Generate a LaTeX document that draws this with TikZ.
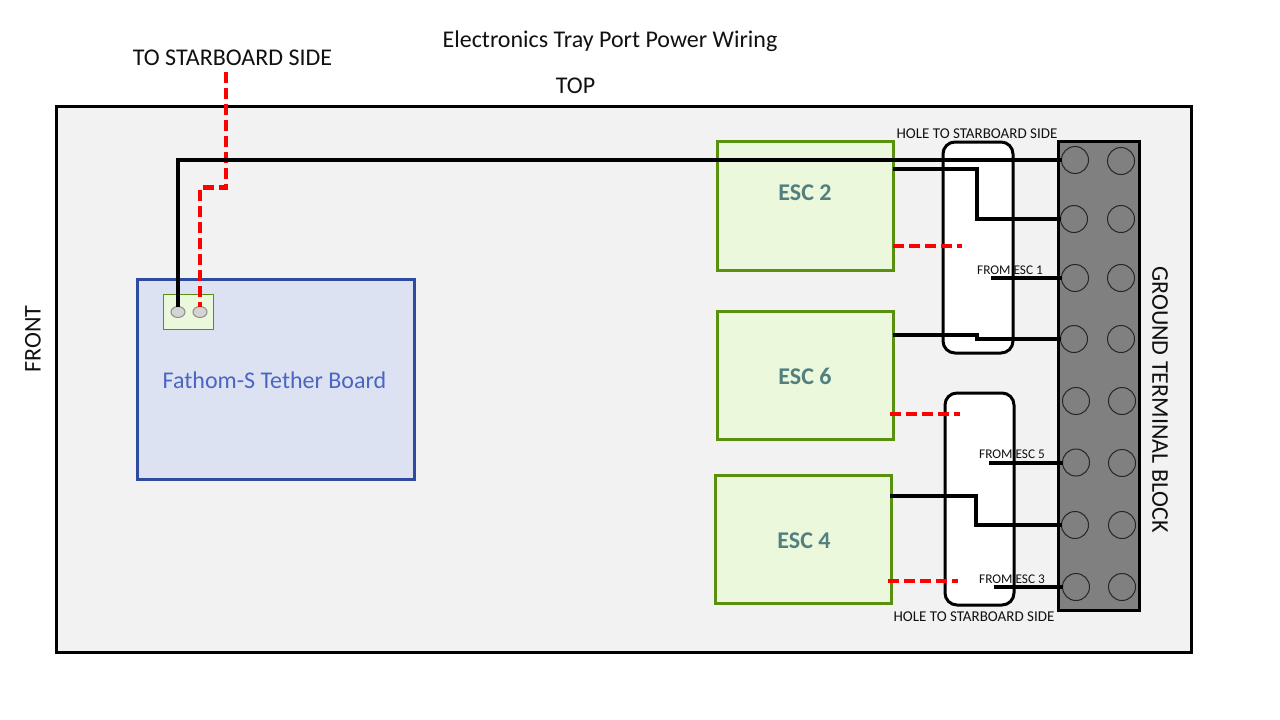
\documentclass[tikz,border=0pt]{standalone}
\usepackage{fontspec}
\setmainfont{Carlito}
\usetikzlibrary{shapes.geometric}
\definecolor{trayfill}{HTML}{F2F2F2}
\definecolor{escfill}{HTML}{EBF8DC}
\definecolor{escline}{HTML}{5A9010}
\definecolor{esctext}{HTML}{53807F}
\definecolor{boardfill}{HTML}{DDE2F3}
\definecolor{boardline}{HTML}{2F4B9F}
\definecolor{boardtext}{HTML}{4A66C0}
\definecolor{blockfill}{HTML}{808080}
\definecolor{pinfill}{HTML}{D4D4D4}
\definecolor{pinline}{HTML}{8C8C8C}
\definecolor{txt}{HTML}{111111}
\tikzset{
  every node/.style={outer sep=0pt,inner sep=0pt,text=txt},
  big/.style={font=\fontsize{24}{26}\selectfont},
  holetext/.style={font=\fontsize{15}{17}\selectfont},
  fromtext/.style={font=\fontsize{13.3}{15}\selectfont},
  frame/.style={draw=black,line width=3pt,fill=trayfill,rectangle},
  escbox/.style={draw=escline,line width=3pt,fill=escfill,rectangle,minimum width=176pt,minimum height=128.5pt},
  esclabel/.style={font=\fontsize{24}{26}\selectfont\bfseries,text=esctext},
  hole/.style={draw=black,line width=3pt,fill=white,rectangle,rounded corners=12pt},
  term/.style={draw=black!85,line width=1pt,circle,minimum size=27pt},
  pin/.style={draw=pinline,line width=1pt,fill=pinfill,ellipse,minimum width=14pt,minimum height=11pt},
  wire/.style={draw=black,line width=4pt},
  redwire/.style={draw=red,line width=4.5pt,dash pattern=on 11pt off 5pt},
}
\begin{document}
\begin{tikzpicture}[x=1pt,y=-1pt]
\useasboundingbox[fill=white] (0,0) rectangle (1280,720);
% texts outside
\node[big] (title) at (610,41.5) {Electronics Tray Port Power Wiring};
\node[big] (starb) at (232.5,58) {TO STARBOARD SIDE};
\node[big] (top) at (575.5,86) {TOP};
\node[big,rotate=90] (front) at (33,339) {FRONT};
% tray
\node[frame,minimum width=1135pt,minimum height=546pt] (tray) at (623.5,379) {};
% board
\node[draw=boardline,line width=3pt,fill=boardfill,rectangle,minimum width=277pt,minimum height=200pt] (board) at (275.5,379.5) {};
\node[big,text=boardtext] (boardlabel) at (274.5,380) {Fathom-S Tether Board};
\node[draw=escline,line width=1pt,fill=escfill,rectangle,minimum width=50pt,minimum height=35pt] (conn) at (188,311.5) {};
\node[pin] (p1) at (178,312) {};
\node[pin] (p2) at (200,312) {};
% ESCs
\node[escbox] (esc2) at (805,206) {};
\node[escbox] (esc6) at (805.2,375.5) {};
\node[escbox] (esc4) at (803.5,539.5) {};
\node[esclabel] (l2) at (805,192.5) {ESC 2};
\node[esclabel] (l6) at (805,376.5) {ESC 6};
\node[esclabel] (l4) at (804,540.5) {ESC 4};
% holes
\node[hole,minimum width=70pt,minimum height=211pt] (hole1) at (978,247.5) {};
\node[hole,minimum width=69pt,minimum height=212pt] (hole2) at (979.5,499) {};
% terminal block
\node[draw=black,line width=3pt,fill=blockfill,rectangle,minimum width=81pt,minimum height=469pt] (block) at (1098.5,375.5) {};
\node[term] (a1) at (1075,160) {};   \node[term] (b1) at (1121,161) {};
\node[term] (a2) at (1074,219) {};   \node[term] (b2) at (1121,219) {};
\node[term] (a3) at (1075,278) {};   \node[term] (b3) at (1121,278) {};
\node[term] (a4) at (1074,339) {};   \node[term] (b4) at (1121,339) {};
\node[term] (a5) at (1076,401) {};   \node[term] (b5) at (1122,401) {};
\node[term] (a6) at (1076,462.5) {}; \node[term] (b6) at (1122,463) {};
\node[term] (a7) at (1075,525) {};   \node[term] (b7) at (1122,525) {};
\node[term] (a8) at (1076,587) {};   \node[term] (b8) at (1122,587) {};
\node[big,rotate=-90] (gtb) at (1160,399.5) {GROUND TERMINAL BLOCK};
% small labels
\node[holetext] (h1) at (977,134) {HOLE TO STARBOARD SIDE};
\node[holetext] (h2) at (974,617) {HOLE TO STARBOARD SIDE};
\node[fromtext] (f1) at (1010,270.5) {FROM ESC 1};
\node[fromtext] (f5) at (1012,454) {FROM ESC 5};
\node[fromtext] (f3) at (1012,579) {FROM ESC 3};
% red wires
\coordinate (redtop) at (226,72);
\coordinate (r2) at (962,246);
\coordinate (r6) at (960,414);
\coordinate (r4) at (958,581);
\draw[redwire] (redtop) -- (226,187.5) -- (200,187.5) -- (p2.north);
\draw[redwire] (esc2.east |- r2) -- (r2);
\draw[redwire] ([xshift=-3pt]esc6.east |- r6) -- (r6);
\draw[redwire] ([xshift=-3.5pt]esc4.east |- r4) -- (r4);
% black wires
\coordinate (s1) at (991,278);
\coordinate (s5) at (989,462.5);
\coordinate (s3) at (994,587);
\draw[wire] (a1.west) -| (p1.north);
\draw[wire] (esc2.east |- 0,169) -- (977,169) -- (977,219) -- (a2.west);
\draw[wire] (s1) -- (a3.west);
\draw[wire] (esc6.east |- 0,335) -- (977,335) -- (977,339) -- (a4.west);
\draw[wire] (s5) -- (a6.west);
\draw[wire] (890,496) -- (975.5,496) -- (975.5,525) -- (a7.west);
\draw[wire] (s3) -- (a8.west);
\end{tikzpicture}
\end{document}
